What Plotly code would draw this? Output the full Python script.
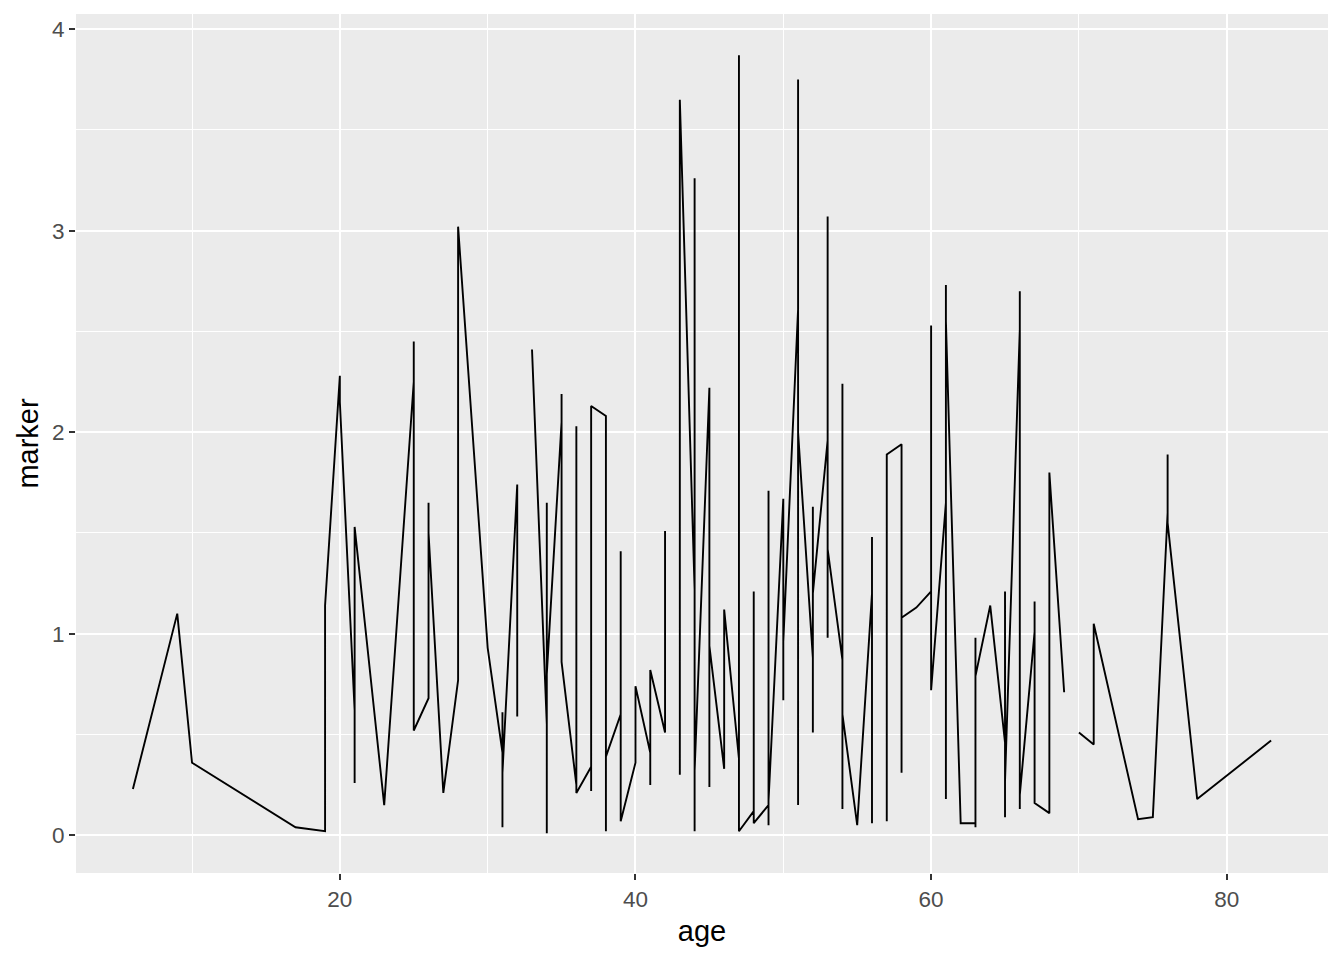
import plotly.graph_objects as go

# observations in plotting order (sorted by age); None = missing value (breaks the line)
age = [6, 9, 10, 17, 19, 19, 20, 20, 21, 21, 21, 23, 25, 25, 25, 26, 26, 26, 27, 28, 28,
       30, 31, 31, 31, 31, 32, 32, 32, 33, 34, 34, 34, 34, 35, 35, 35, 36, 36, 36,
       37, 37, 37, 38, 38, 38, 39, 39, 39, 40, 40, 41, 41, 41, 42, 42, 42,
       43, 43, 44, 44, 44, 44, 45, 45, 45, 46, 46, 47, 47, 47, 48, 48, 48,
       49, 49, 49, 49, 50, 50, 50, 51, 51, 51, 51, 52, 52, 52, 52, 53, 53, 53, 53,
       54, 54, 54, 54, 55, 56, 56, 56, 56, 57, 57, 58, 58, 58, 59, 60, 60, 60,
       61, 61, 61, 61, 62, 63, 63, 63, 63, 64, 65, 65, 65, 65, 66, 66, 66, 66,
       67, 67, 67, 68, 68, 69, 69, 70, 71, 71, 74, 75, 76, 76, 76, 78, 83]
marker = [0.23, 1.10, 0.36, 0.04, 0.02, 1.14, 2.28, 2.15, 0.62, 0.26, 1.53, 0.15, 2.25, 2.45, 0.52,
          0.68, 1.65, 1.50, 0.21, 0.77, 3.02,
          0.93, 0.41, 0.04, 0.61, 0.31, 1.74, 0.59, None, 2.41, 0.55, 0.01, 1.65, 0.80,
          2.05, 2.19, 0.86, 0.25, 2.03, 0.21,
          0.34, 0.22, 2.13, 2.08, 0.02, 0.39, 0.60, 1.41, 0.07, 0.36, 0.74, 0.41, 0.25, 0.82,
          0.51, 1.51, None,
          0.30, 3.65, 1.22, 3.26, 0.02, 0.32, 2.22, 0.24, 0.94, 0.33, 1.12, 0.38, 3.87, 0.02,
          0.12, 1.21, 0.06,
          0.15, 1.71, 0.05, 0.17, 1.67, 0.67, 0.96, 2.61, 3.75, 0.15, 2.00, 0.88, 0.51, 1.63, 1.20,
          1.96, 3.07, 0.98, 1.42,
          0.87, 2.24, 0.13, 0.60, 0.05, 1.20, 1.48, 0.06, None, 0.07, 1.89, 1.94, 0.31, 1.08, 1.13,
          1.21, 2.53, 0.72,
          1.65, 2.73, 0.18, 2.55, 0.06, 0.06, 0.04, 0.98, 0.79, 1.14, 0.46, 1.21, 0.09, 0.27,
          2.51, 2.70, 0.13, 0.20,
          1.01, 1.16, 0.16, 0.11, 1.80, 0.71, None, 0.51, 0.45, 1.05, 0.08, 0.09, 1.60, 1.89, 1.55,
          0.18, 0.47]

x_ticks = [20, 40, 60, 80]
x_minor = [10, 30, 50, 70]
y_ticks = [0, 1, 2, 3, 4]
y_minor = [0.5, 1.5, 2.5, 3.5]

fig = go.Figure()
fig.add_trace(go.Scatter(x=age, y=marker, mode="lines", connectgaps=False,
                         line=dict(color="black", width=1.9), hoverinfo="x+y"))

font_family = "Liberation Sans, Arial, sans-serif"
axis_common = dict(
    automargin=False,
    showline=False, zeroline=False,
    showgrid=True, gridcolor="white", gridwidth=1.7,
    ticks="outside", ticklen=6, tickwidth=1.5, tickcolor="#333333",
    tickfont=dict(family=font_family, size=22.5, color="#4D4D4D"),
)

# page body has an 8px margin, so the figure is sized/placed to land the panel where the reference has it
fig.update_layout(
    width=1336, height=952,
    paper_bgcolor="white", plot_bgcolor="#EBEBEB",
    margin=dict(l=68, r=16, t=6, b=87),
    showlegend=False,
    font=dict(family=font_family),
    xaxis=dict(
        **axis_common,
        range=[2.15, 86.85],
        tickvals=x_ticks, ticktext=[str(v) for v in x_ticks],
        minor=dict(tickvals=x_minor, showgrid=True, gridcolor="white", gridwidth=0.85, ticks=""),
        title=dict(text="age", font=dict(family=font_family, size=29, color="black"), standoff=9),
    ),
    yaxis=dict(
        **axis_common,
        range=[-0.187, 4.075],
        tickvals=y_ticks, ticktext=[str(v) for v in y_ticks],
        minor=dict(tickvals=y_minor, showgrid=True, gridcolor="white", gridwidth=0.85, ticks=""),
        title=dict(text="marker", font=dict(family=font_family, size=29, color="black"), standoff=4),
    ),
)

fig.write_html("out.html")
